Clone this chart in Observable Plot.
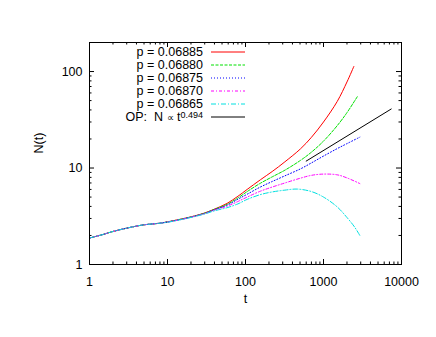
<!DOCTYPE html>
<html><head><meta charset="utf-8">
<script src="https://cdn.jsdelivr.net/npm/d3@7"></script>
<script src="https://cdn.jsdelivr.net/npm/@observablehq/plot@0.6"></script>
<style>
html,body{margin:0;padding:0;background:#fff;}
#wrap{position:relative;width:436px;height:337px;}
#wrap svg{font-family:"Liberation Sans",Arial,Helvetica,sans-serif;}
#legend{position:absolute;left:0;top:0;pointer-events:none;}
#legend text{white-space:pre;}
</style></head>
<body><div id="wrap"><div id="chart"></div></div>
<script>
const seriesLabels = ["p = 0.06885","p = 0.06880","p = 0.06875","p = 0.06870","p = 0.06865"];
const tRed   = [1,1.5,2,3,4,5,6,8,10,15,22,30,40,58,80,105,155,220,320,507,700,1000,1500,2000,2450];
const nRed   = [1.88,2.05,2.2,2.38,2.5,2.58,2.62,2.68,2.77,2.96,3.18,3.42,3.75,4.3,5.1,6.0,7.55,9.2,11.6,15.8,20.8,30,49,78,113];
const tGreen = [1,1.5,2,3,4,5,6,8,10,15,22,30,40,58,80,105,155,220,320,507,700,1000,1500,2000,2755];
const nGreen = [1.88,2.05,2.2,2.38,2.5,2.58,2.62,2.68,2.76,2.95,3.17,3.41,3.73,4.2,4.9,5.7,6.95,8.1,9.5,12.0,14.6,19.0,27.5,37.5,56];
const tBlue  = [1,1.5,2,3,4,5,6,8,10,15,22,30,40,58,80,105,155,220,320,507,700,1000,1500,2000,2924];
const nBlue  = [1.88,2.05,2.2,2.38,2.5,2.58,2.62,2.68,2.76,2.94,3.16,3.39,3.7,4.12,4.75,5.35,6.35,7.25,8.3,9.8,11.3,13.3,15.9,17.9,20.9];
const tMag   = [1,1.5,2,3,4,5,6,8,10,15,22,30,40,58,80,105,155,220,320,507,700,1000,1500,2000,2924];
const nMag   = [1.88,2.05,2.2,2.38,2.5,2.58,2.62,2.68,2.75,2.93,3.15,3.37,3.66,4.02,4.5,5.0,5.75,6.35,7.0,7.85,8.4,8.65,8.5,7.9,6.9];
const tCyan  = [1,1.5,2,3,4,5,6,8,10,15,22,30,40,58,80,105,155,220,320,460,700,1000,1500,2000,2500,2924];
const nCyan  = [1.88,2.05,2.2,2.38,2.5,2.58,2.62,2.68,2.74,2.92,3.13,3.34,3.6,3.88,4.25,4.73,5.3,5.65,5.9,6.05,5.7,5.0,3.95,3.07,2.45,2.0];
const opPrefix = "OP:  N ";
const opSymbol = "\u221d";
const opSuffix = " t";
const opExponent = "0.494";
const tOP = [600, 7380];
const nOP = [11.8, 40.9];
const xTickValues = [1,10,100,1000,10000];
const yTickValues = [1,10,100];
const xMinorValues = [2,3,4,5,6,7,8,9,20,30,40,50,60,70,80,90,200,300,400,500,600,700,800,900,2000,3000,4000,5000,6000,7000,8000,9000];
const yMinorValues = [2,3,4,5,6,7,8,9,20,30,40,50,60,70,80,90];
const xLabel = "t";
const yLabel = "N(t)";

const seriesT = [tRed,tGreen,tBlue,tMag,tCyan];
const seriesN = [nRed,nGreen,nBlue,nMag,nCyan];
const colors = ["#ff0000","#00e000","#0000ff","#ff00ff","#00e0e0"];
const dashes = [null,"3,1.5","1,2","3,2,1,2","5,2,1,2"];

const rows = [];
seriesLabels.forEach((s,i)=>seriesT[i].forEach((t,j)=>rows.push({s, t, n: seriesN[i][j]})));
const opRows = tOP.map((t,j)=>({t, n:nOP[j]}));

const W = 436, H = 337, mL = 89, mR = 35, mT = 42, mB = 73;
const pw = W - mL - mR, ph = H - mT - mB;
const fs = 12.5;

const marks = [];
seriesLabels.forEach((s,i)=>{
  marks.push(Plot.line(rows.filter(d=>d.s===s), {x:"t", y:"n", stroke: colors[i], strokeWidth:1, strokeDasharray: dashes[i], curve:"catmull-rom"}));
});
marks.push(Plot.line(opRows, {x:"t", y:"n", stroke:"#000", strokeWidth:1}));
marks.push(Plot.ruleX(xTickValues, {x:d=>d, insetTop: ph-5, stroke:"#000"}));
marks.push(Plot.ruleX(xTickValues, {x:d=>d, insetBottom: ph-5, stroke:"#000"}));
marks.push(Plot.ruleX(xMinorValues, {x:d=>d, insetTop: ph-2.5, stroke:"#000"}));
marks.push(Plot.ruleX(xMinorValues, {x:d=>d, insetBottom: ph-2.5, stroke:"#000"}));
marks.push(Plot.ruleY(yTickValues, {y:d=>d, insetRight: pw-5, stroke:"#000"}));
marks.push(Plot.ruleY(yTickValues, {y:d=>d, insetLeft: pw-5, stroke:"#000"}));
marks.push(Plot.ruleY(yMinorValues, {y:d=>d, insetRight: pw-2.5, stroke:"#000"}));
marks.push(Plot.ruleY(yMinorValues, {y:d=>d, insetLeft: pw-2.5, stroke:"#000"}));
marks.push(Plot.frame({stroke:"#000", strokeWidth:1}));
marks.push(Plot.text(xTickValues, {x:d=>d, text:d=>String(d), frameAnchor:"bottom", dy:17, lineAnchor:"middle", fontSize:fs, fill:"#000"}));
marks.push(Plot.text(yTickValues, {y:d=>d, text:d=>String(d), frameAnchor:"left", dx:-7, textAnchor:"end", lineAnchor:"middle", fontSize:fs, fill:"#000"}));
marks.push(Plot.text([xLabel], {text:d=>d, frameAnchor:"bottom", dy:34, lineAnchor:"middle", fontSize:fs, fill:"#000"}));
marks.push(Plot.text([yLabel], {text:d=>d, frameAnchor:"left", dx:-51, rotate:-90, lineAnchor:"middle", fontSize:fs, fill:"#000"}));

const chart = Plot.plot({
  width: W, height: H,
  marginLeft: mL, marginRight: mR, marginTop: mT, marginBottom: mB,
  style: {fontFamily: '"Liberation Sans",Arial,Helvetica,sans-serif', background:"#fff"},
  x: {type:"log", domain:[1,10000], axis:null},
  y: {type:"log", domain:[1,200], axis:null},
  marks
});
document.getElementById("chart").appendChild(chart);

// legend overlay (gnuplot style, inside top-left)
const lsvg = d3.select("#wrap").append("svg").attr("id","legend")
  .attr("width", W).attr("height", H)
  .style("font-family", '"Liberation Sans",Arial,Helvetica,sans-serif');
const textRight = 203, lineX1 = 211, lineX2 = 245, row0 = 52, rowStep = 13;
const legendItems = seriesLabels.map((s,i)=>({label:s, color:colors[i], dash:dashes[i]}));
legendItems.push({label: null, color:"#000000", dash:null});
legendItems.forEach((it,i)=>{
  const y = row0 + i*rowStep;
  const tx = lsvg.append("text").attr("x", textRight).attr("y", y).attr("dy","0.35em")
    .attr("text-anchor","end").attr("font-size", fs).attr("fill", "#000");
  if (it.label) tx.text(it.label);
  else {
    tx.append("tspan").text(opPrefix);
    tx.append("tspan").attr("font-size", 10).text(opSymbol);
    tx.append("tspan").text(opSuffix);
    tx.append("tspan").attr("dy","-0.32em").attr("font-size", 9).text(opExponent);
  }
  const p = lsvg.append("path").attr("d", `M${lineX1},${y}H${lineX2}`)
    .attr("fill","none").attr("stroke", it.color).attr("stroke-width", 1);
  if (it.dash) p.attr("stroke-dasharray", it.dash);
});
</script></body></html>
